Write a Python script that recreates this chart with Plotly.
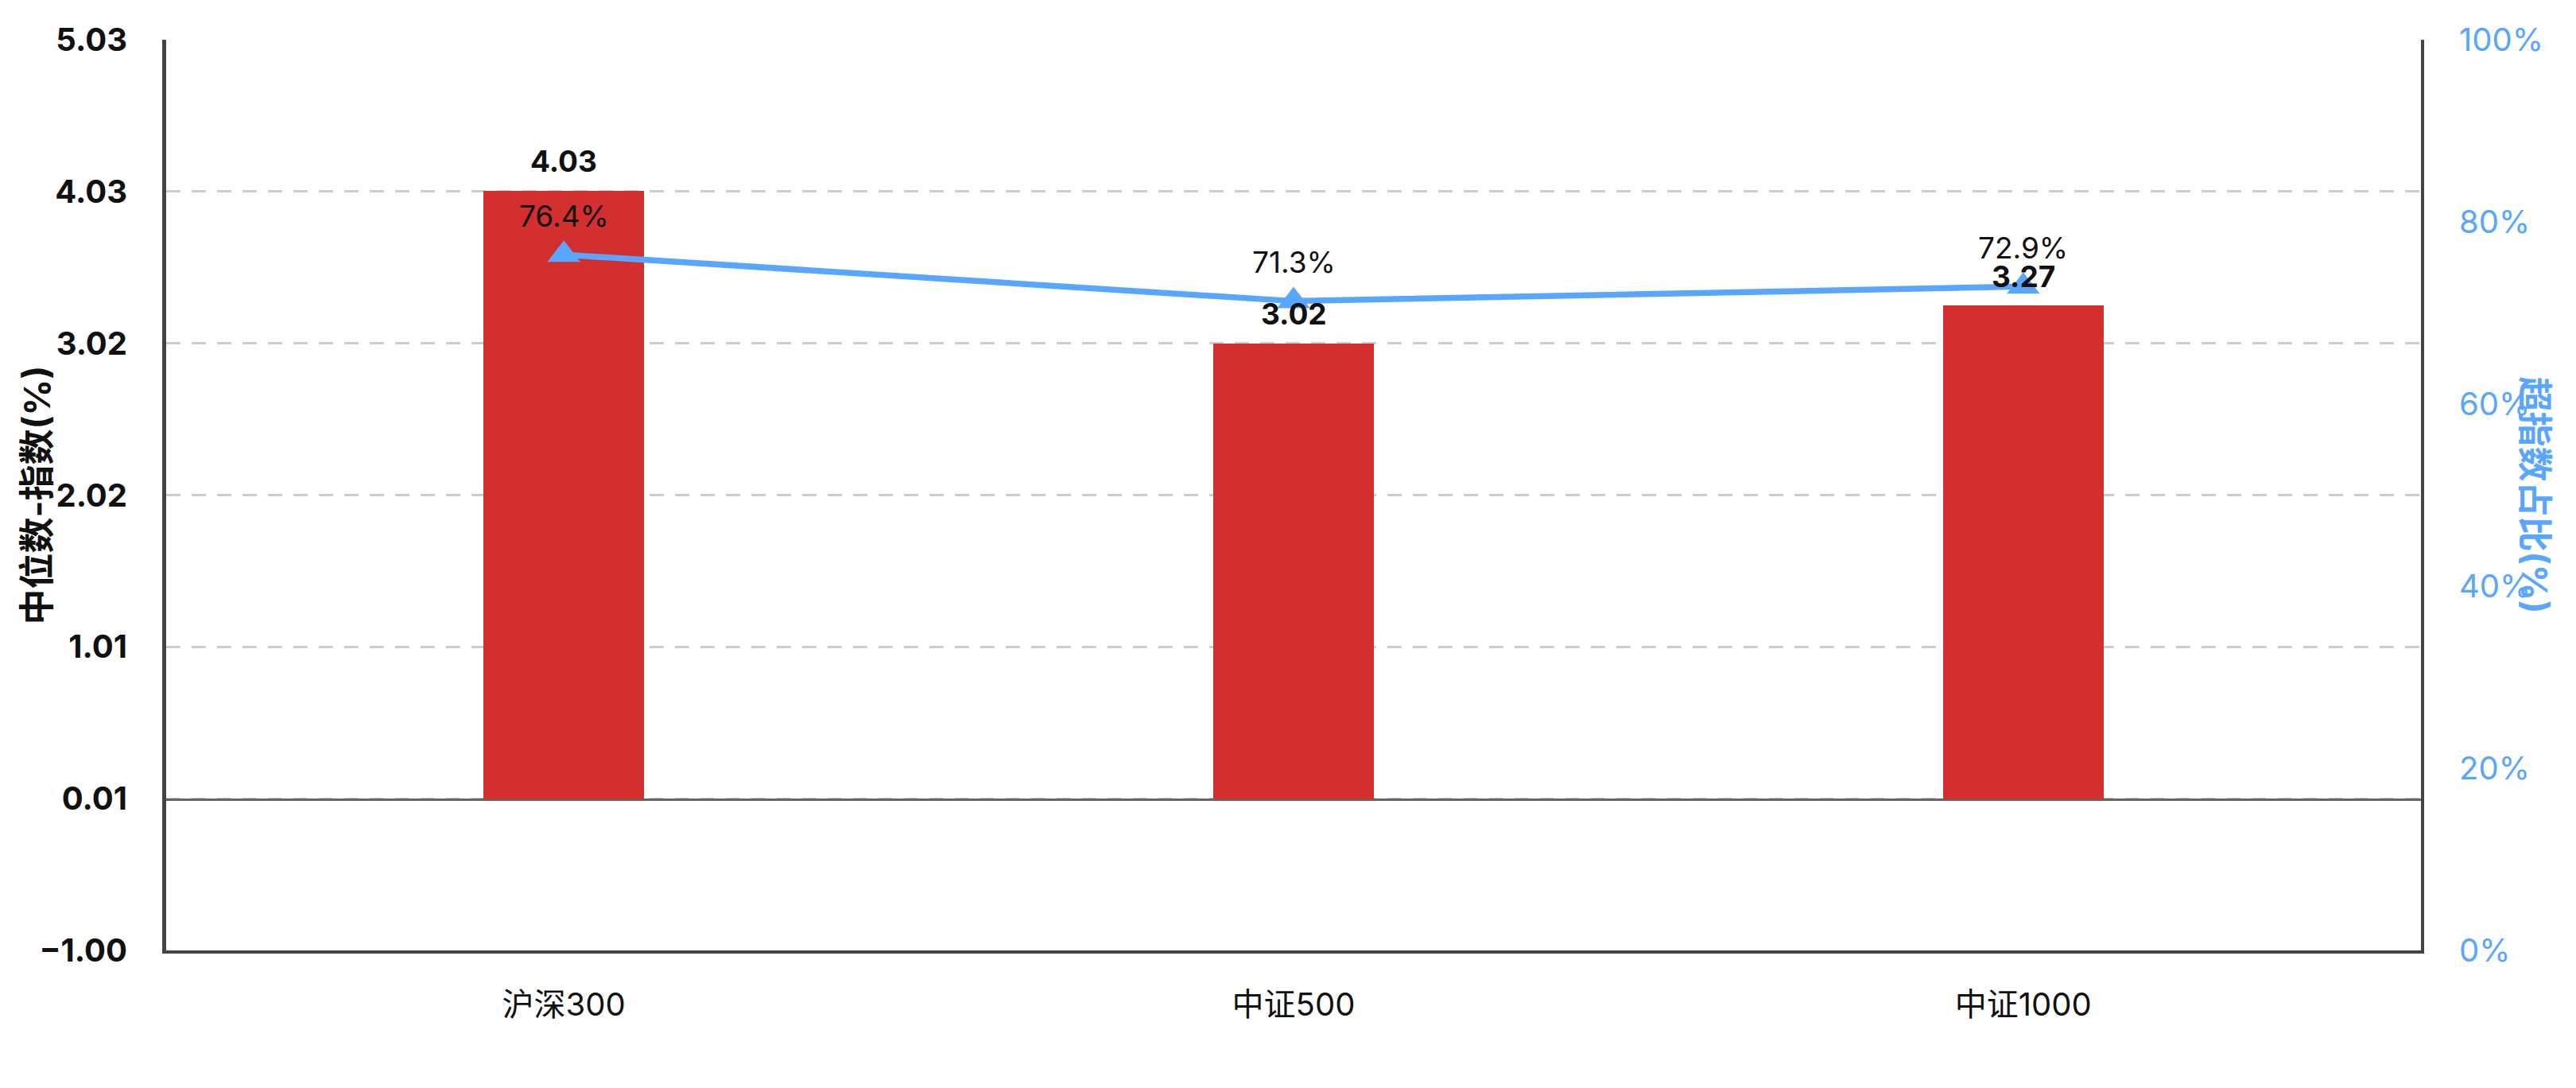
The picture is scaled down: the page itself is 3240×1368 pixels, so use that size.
import numpy as np
import plotly.graph_objects as go

# ---- data ----
categories = ["沪深300", "中证500", "中证1000"]
median_minus_index = [4.03, 3.02, 3.27]        # 中位数-指数(%)
beat_index_ratio = [76.4, 71.3, 72.9]          # 超指数占比(%)
left_range = [-1.00, 5.03]
right_tick_vals = [0, 20, 40, 60, 80, 100]
right_tick_text = ["0%", "20%", "40%", "60%", "80%", "100%"]

BAR_COLOR = "#D32F2F"
LINE_COLOR = "#58A6FF"
AXIS_COLOR = "#444444"
FONT = "Inter, 'Noto Sans CJK SC', sans-serif"

left_ticks = list(np.linspace(left_range[0], left_range[1], 7))
left_tick_text = [f"{v:.2f}".replace("-", "\u2212") for v in left_ticks]

fig = go.Figure()
fig.add_trace(go.Bar(
    x=categories, y=median_minus_index, width=0.22,
    marker=dict(color=BAR_COLOR, line=dict(width=0)),
    yaxis="y", showlegend=False, hoverinfo="skip",
))
fig.add_trace(go.Scatter(
    x=categories, y=beat_index_ratio, mode="lines+markers",
    line=dict(color=LINE_COLOR, width=7.5),
    marker=dict(symbol="triangle-up", size=36, color=LINE_COLOR),
    yaxis="y2", showlegend=False, hoverinfo="skip",
))

plot_w = 3240 - 209 - 195

annotations = []
for c, v in zip(categories, median_minus_index):
    annotations.append(dict(x=c, y=v, xref="x", yref="y", text=f"<b>{v:.2f}</b>",
                            showarrow=False, yshift=37,
                            font=dict(family=FONT, size=37, color="#111111")))
for c, v in zip(categories, beat_index_ratio):
    annotations.append(dict(x=c, y=v, xref="x", yref="y2", text=f"{v:.1f}%",
                            showarrow=False, yshift=49,
                            font=dict(family=FONT, size=37, color="#111111")))
annotations.append(dict(x=(46 - 209) / plot_w, y=0.5, xref="paper", yref="paper",
                        xanchor="center", yanchor="middle",
                        text="<b>中位数-指数(%)</b>", textangle=-90, showarrow=False,
                        font=dict(family=FONT, size=45, color="#111111")))
annotations.append(dict(x=(3188 - 209) / plot_w, y=0.5, xref="paper", yref="paper",
                        xanchor="center", yanchor="middle",
                        text="<b>超指数占比(%)</b>", textangle=90, showarrow=False,
                        font=dict(family=FONT, size=44, color=LINE_COLOR)))

fig.update_layout(
    width=3240, height=1368,
    margin=dict(l=209, r=195, t=50, b=173),
    paper_bgcolor="white", plot_bgcolor="white",
    font=dict(family=FONT, size=40, color="#111111"),
    bargap=0,
    annotations=annotations,
    xaxis=dict(
        range=[-0.545, 2.545], showgrid=False, zeroline=False,
        showline=True, linecolor=AXIS_COLOR, linewidth=4,
        ticks="", ticklabelstandoff=30,
        tickfont=dict(family=FONT, size=40, color="#111111"),
    ),
    yaxis=dict(
        range=left_range, tickvals=left_ticks, ticktext=left_tick_text,
        showgrid=True, gridcolor="#CCCCCC", gridwidth=3, griddash="18px,14px",
        zeroline=True, zerolinecolor="#666666", zerolinewidth=3,
        showline=True, linecolor=AXIS_COLOR, linewidth=5,
        ticks="", ticklabelstandoff=36,
        tickfont=dict(family=FONT, size=40, color="#111111", weight="bold"),
    ),
    yaxis2=dict(
        range=[0, 100], overlaying="y", side="right",
        tickvals=right_tick_vals, ticktext=right_tick_text,
        showgrid=False, zeroline=False,
        showline=True, linecolor=AXIS_COLOR, linewidth=4,
        ticks="", ticklabelstandoff=36,
        tickfont=dict(family=FONT, size=40, color=LINE_COLOR),
    ),
)

fig.write_html("out.html")
